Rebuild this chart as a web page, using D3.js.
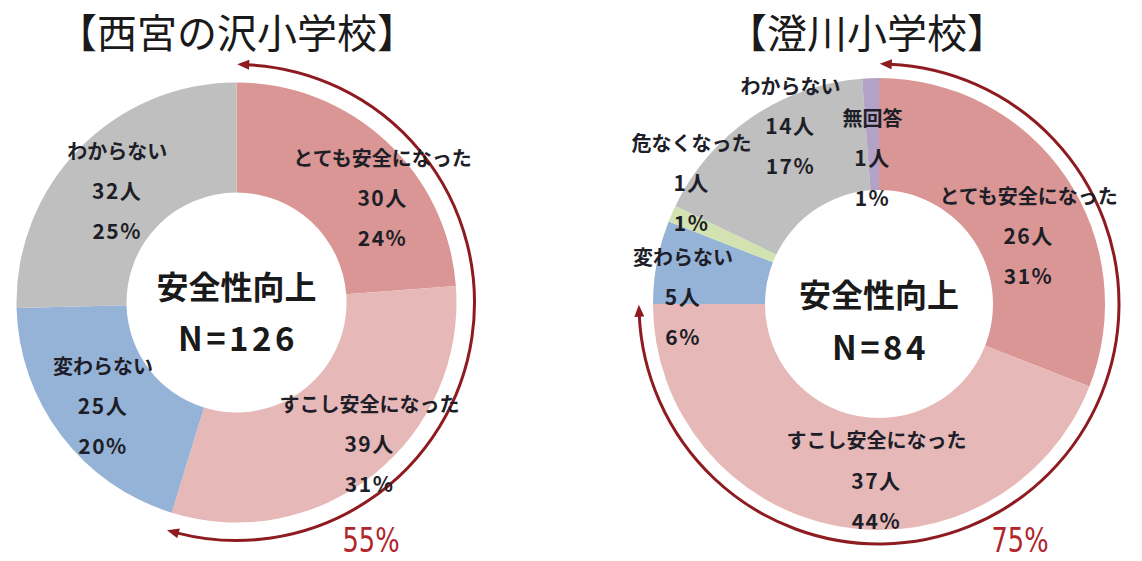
<!DOCTYPE html>
<html>
<head>
<meta charset="utf-8">
<script src="https://cdn.jsdelivr.net/npm/d3@7"></script>
<style>
  html, body { margin: 0; padding: 0; background: #ffffff; }
  svg text { font-family: "Noto Sans CJK JP", "Noto Sans", sans-serif; }
  .title { font-size: 40px; font-weight: 400; fill: #1a1a1a; }
  .slice-label { font-size: 20px; font-weight: 700; fill: #1e1e28; }
  .slice-num { font-size: 21px; letter-spacing: 1.5px; }
  .center-label { font-size: 32px; font-weight: 700; fill: #1a1a1a; }
  .center-n { font-size: 33px; font-weight: 700; fill: #1a1a1a; letter-spacing: 3.5px; }
  .share { font-family: "Liberation Sans Narrow", "DejaVu Sans Condensed", sans-serif; font-size: 34px; fill: #b0262c; }
</style>
</head>
<body>
<div id="chart"></div>
<script>

// data
var titles = ["【西宮の沢小学校】", "【澄川小学校】"]
var totals = ["N=126", "N=84"]
var centerText = "安全性向上"

var leftCategories = ["とても安全になった", "すこし安全になった", "変わらない", "わからない"]
var leftCounts = [30, 39, 25, 32]
var leftPercents = ["24%", "31%", "20%", "25%"]

var rightCategories = ["とても安全になった", "すこし安全になった", "変わらない", "危なくなった", "わからない", "無回答"]
var rightCounts = [26, 37, 5, 1, 14, 1]
var rightPercents = ["31%", "44%", "6%", "1%", "17%", "1%"]

var safeShares = ["55%", "75%"]

// colours per answer
var color = d3.scaleOrdinal()
  .domain(["とても安全になった", "すこし安全になった", "変わらない", "危なくなった", "わからない", "無回答"])
  .range(["#d99694", "#e6b9b8", "#95b3d7", "#d2e2b0", "#bfbfbf", "#b3a2c7"])

var width = 1142, height = 561

var svg = d3.select("#chart").append("svg")
  .attr("width", width)
  .attr("height", height)

var defs = svg.append("defs")
defs.append("marker")
  .attr("id", "arrowhead")
  .attr("markerUnits", "userSpaceOnUse")
  .attr("viewBox", "0 0 12 10")
  .attr("refX", 2)
  .attr("refY", 5)
  .attr("markerWidth", 13)
  .attr("markerHeight", 10)
  .attr("orient", "auto-start-reverse")
  .append("path")
  .attr("d", "M0,0 L12,5 L0,10 Z")
  .attr("fill", "#8e1b20")

// layout of each donut (positions kept apart from the data)
var charts = [
  { cx: 236.5, cy: 302.5, r: 220, r0: 110, arrowR: 238, titleX: 237,
    cats: leftCategories, counts: leftCounts, pcts: leftPercents,
    nudge: [[27, 23], [24, 4], [6, -3], [6, 10]],
    centerY: [285, 337], shareX: 371 },
  { cx: 879, cy: 304, r: 226, r0: 114, arrowR: 240, titleX: 867,
    cats: rightCategories, counts: rightCounts, pcts: rightPercents,
    nudge: [[5, 30], [30, 4], [-24, 25], [-27, -52], [10, -34], [0, 28]],
    centerY: [293, 346], shareX: 1020 }
]

var pie = d3.pie().sort(null).value(function(d) { return d })
var labelRadius = 175

charts.forEach(function(c, ci) {

  var g = svg.append("g").attr("transform", "translate(" + c.cx + "," + c.cy + ")")

  var arc = d3.arc().innerRadius(c.r0).outerRadius(c.r)
  var labelArc = d3.arc().innerRadius(labelRadius).outerRadius(labelRadius)

  var slices = pie(c.counts)

  g.selectAll(".slice")
    .data(slices)
    .enter().append("path")
    .attr("class", "slice")
    .attr("d", arc)
    .attr("fill", function(d, i) { return color(c.cats[i]) })

  // arrow round the "safer" answers (first two)
  var total = d3.sum(c.counts)
  var safeEnd = (c.counts[0] + c.counts[1]) / total * 2 * Math.PI
  var p = d3.path()
  p.arc(0, 0, c.arrowR, -Math.PI / 2 + 0.045, safeEnd - Math.PI / 2 - 0.045)
  g.append("path")
    .attr("d", p.toString())
    .attr("fill", "none")
    .attr("stroke", "#ffffff")
    .attr("stroke-width", 8)
  g.append("path")
    .attr("d", p.toString())
    .attr("fill", "none")
    .attr("stroke", "#8e1b20")
    .attr("stroke-width", 3)
    .attr("marker-start", "url(#arrowhead)")
    .attr("marker-end", "url(#arrowhead)")

  // slice labels
  var labels = g.selectAll(".slice-label-g")
    .data(slices)
    .enter().append("g")
    .attr("class", "slice-label-g")
    .attr("transform", function(d, i) {
      var pt = labelArc.centroid(d)
      return "translate(" + (pt[0] + c.nudge[i][0]) + "," + (pt[1] + c.nudge[i][1]) + ")"
    })

  labels.each(function(d, i) {
    var lines = [c.cats[i], c.counts[i] + "人", c.pcts[i]]
    d3.select(this).selectAll("text")
      .data(lines)
      .enter().append("text")
      .attr("class", function(t, k) { return k == 0 ? "slice-label" : "slice-label slice-num" })
      .attr("text-anchor", "middle")
      .attr("dominant-baseline", "central")
      .attr("y", function(t, k) { return (k - 1) * 40 })
      .text(function(t) { return t })
  })

  // title
  svg.append("text")
    .attr("class", "title")
    .attr("x", c.titleX)
    .attr("y", 31)
    .attr("text-anchor", "middle")
    .attr("dominant-baseline", "central")
    .text(titles[ci])

  // centre text
  svg.append("text")
    .attr("class", "center-label")
    .attr("x", c.cx)
    .attr("y", c.centerY[0])
    .attr("text-anchor", "middle")
    .attr("dominant-baseline", "central")
    .text(centerText)
  svg.append("text")
    .attr("class", "center-n")
    .attr("x", c.cx + 1.5)
    .attr("y", c.centerY[1])
    .attr("text-anchor", "middle")
    .attr("dominant-baseline", "central")
    .text(totals[ci])

  // share of safer answers
  svg.append("text")
    .attr("class", "share")
    .attr("x", c.shareX)
    .attr("y", 552)
    .attr("text-anchor", "middle")
    .attr("textLength", 57)
    .attr("lengthAdjust", "spacingAndGlyphs")
    .text(safeShares[ci])
})

</script>
</body>
</html>
